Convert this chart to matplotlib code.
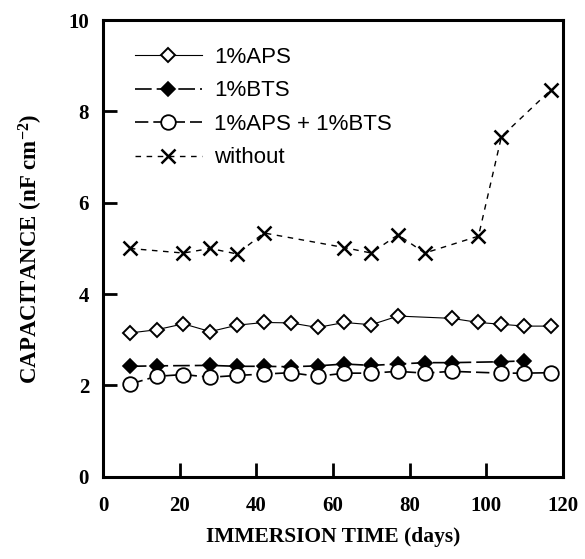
"""Capacitance vs immersion time for silane-treated coatings."""

import matplotlib
import matplotlib.pyplot as plt

matplotlib.use("Agg")

plt.rcParams["mathtext.fontset"] = "custom"
plt.rcParams["mathtext.bf"] = "Liberation Serif:bold"
plt.rcParams["mathtext.rm"] = "Liberation Serif:bold"
plt.rcParams["mathtext.default"] = "bf"

# ── data ───────────────────────────────────────────────────────────────
aps_days = [7, 14, 21, 28, 35, 42, 49, 56, 63, 70, 77, 91, 98, 104, 110, 117]
aps_cap = [3.15, 3.22, 3.35, 3.18, 3.32, 3.38, 3.37, 3.27, 3.38, 3.33, 3.52,
           3.47, 3.38, 3.34, 3.30, 3.30]

bts_days = [7, 14, 28, 35, 42, 49, 56, 63, 70, 77, 84, 91, 104, 110]
bts_cap = [2.42, 2.43, 2.44, 2.42, 2.42, 2.41, 2.43, 2.47, 2.44, 2.47, 2.50,
           2.50, 2.52, 2.54]

mix_days = [7, 14, 21, 28, 35, 42, 49, 56, 63, 70, 77, 84, 91, 104, 110, 117]
mix_cap = [2.03, 2.20, 2.24, 2.18, 2.22, 2.25, 2.28, 2.20, 2.27, 2.27, 2.31,
           2.27, 2.31, 2.27, 2.27, 2.28]

none_days = [7, 21, 28, 35, 42, 63, 70, 77, 84, 98, 104, 117]
none_cap = [5.00, 4.90, 5.00, 4.88, 5.34, 5.02, 4.90, 5.30, 4.90, 5.27, 7.45, 8.48]

labels = ["1%APS", "1%BTS", "1%APS + 1%BTS", "without"]

fig = plt.figure(figsize=(5.85, 5.59), dpi=100)
ax = fig.add_axes([0.176, 0.147, 0.786, 0.817])

ax.plot(aps_days, aps_cap, color="black", lw=0.8, ls="-", marker="D",
        ms=7, mfc="white", mec="black", mew=1.4, label=labels[0])
ax.plot(bts_days, bts_cap, color="black", lw=1.2, ls=(0, (10, 3)), marker="D",
        ms=7, mfc="black", mec="black", mew=1.2, label=labels[1])
ax.plot(mix_days, mix_cap, color="black", lw=1.2, ls=(0, (8, 3)), marker="o",
        ms=10.5, mfc="white", mec="black", mew=1.3, label=labels[2])
ax.plot(none_days, none_cap, color="black", lw=1.0, ls=(0, (4, 4)), marker="x",
        ms=10, mec="black", mew=1.8, label=labels[3])

ax.set_xlim(0, 120)
ax.set_ylim(0, 10)
ax.set_xticks(range(0, 121, 20))
ax.set_yticks(range(0, 11, 2))

for side in ax.spines.values():
    side.set_linewidth(2.2)

ax.tick_params(axis="both", direction="in", length=10, width=2,
               top=False, right=False)
ax.tick_params(axis="x", pad=14)
ax.tick_params(axis="y", pad=10)
for lab in ax.get_xticklabels() + ax.get_yticklabels():
    lab.set_fontfamily("Liberation Serif")
    lab.set_fontweight("bold")
    lab.set_fontsize(15)

ax.set_xlabel("IMMERSION TIME (days)", family="Liberation Serif",
              weight="bold", fontsize=15.5, labelpad=8)
ax.set_ylabel(r"CAPACITANCE (nF cm$^{-2}$)", family="Liberation Serif",
              weight="bold", fontsize=16.5, labelpad=17)

ax.legend(loc="upper left", bbox_to_anchor=(0.026, 0.985), frameon=False,
          prop={"family": "Liberation Sans", "size": 16}, handlelength=3.0,
          labelspacing=0.56, handletextpad=0.55)

fig.savefig("out.png", dpi=100)
